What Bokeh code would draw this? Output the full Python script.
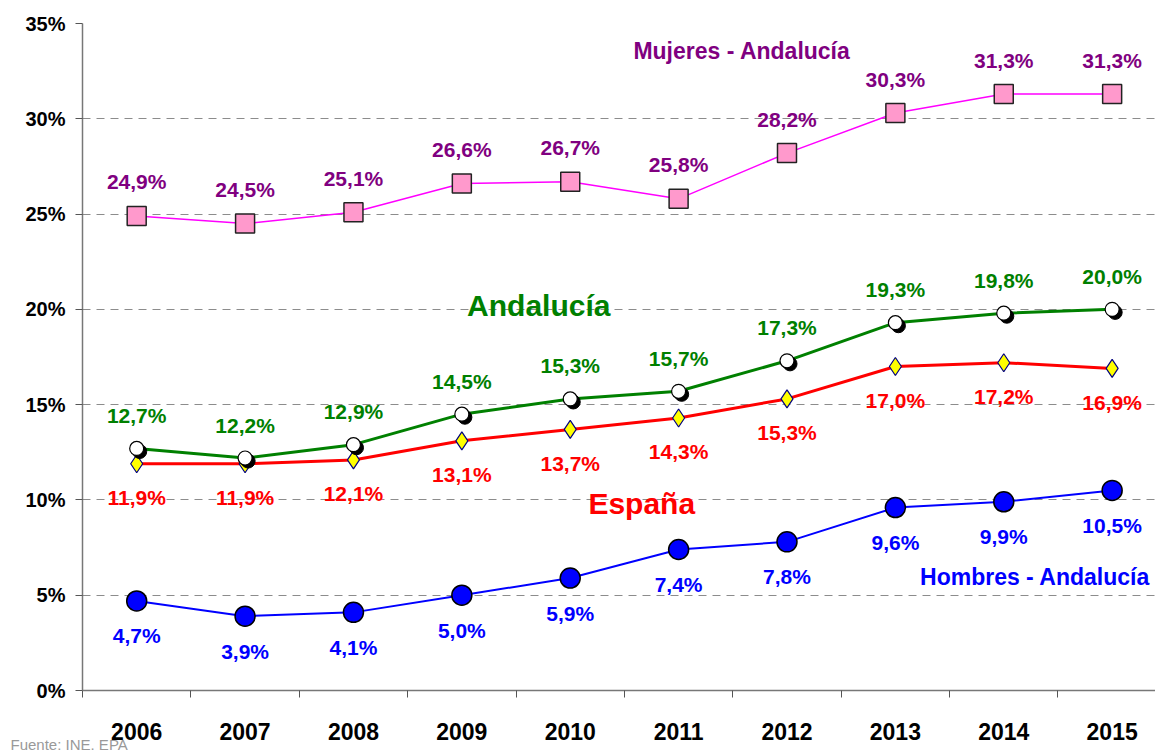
from bokeh.plotting import figure
from bokeh.models import Range1d, FixedTicker, Label, ColumnDataSource, Title
from bokeh.core.properties import value
from bokeh.embed import file_html
from bokeh.resources import INLINE

years = ["2006", "2007", "2008", "2009", "2010", "2011", "2012", "2013", "2014", "2015"]
mujeres_and = [24.9, 24.5, 25.1, 26.6, 26.7, 25.8, 28.2, 30.3, 31.3, 31.3]
andalucia = [12.7, 12.2, 12.9, 14.5, 15.3, 15.7, 17.3, 19.3, 19.8, 20.0]
espana = [11.9, 11.9, 12.1, 13.1, 13.7, 14.3, 15.3, 17.0, 17.2, 16.9]
hombres_and = [4.7, 3.9, 4.1, 5.0, 5.9, 7.4, 7.8, 9.6, 9.9, 10.5]
y_ticks = [0, 5, 10, 15, 20, 25, 30, 35]

FONT = "Liberation Sans"
idx = list(range(len(years)))


def fmt(v):
    return ("%.1f%%" % v).replace(".", ",")


p = figure(width=1155, height=751, output_backend="svg", toolbar_location=None,
           x_range=Range1d(-0.5, 9.4), y_range=Range1d(0, 35),
           min_border_left=82, min_border_right=0, min_border_top=23, min_border_bottom=61)
p.outline_line_color = None
p.background_fill_color = "white"
p.border_fill_color = "white"

# axes
p.xaxis.ticker = FixedTicker(ticks=idx, minor_ticks=[i - 0.5 for i in idx])
p.xaxis.major_label_overrides = {i: y for i, y in zip(idx, years)}
p.xaxis.major_tick_out = 0
p.xaxis.major_tick_in = 0
p.xaxis.minor_tick_out = 7
p.xaxis.minor_tick_in = 0
p.xaxis.minor_tick_line_color = "#555555"
p.xaxis.axis_line_color = "#777777"
p.xaxis.axis_line_width = 1.5
p.xaxis.major_label_text_font = FONT
p.xaxis.major_label_text_font_style = "bold"
p.xaxis.major_label_text_font_size = "23px"
p.xaxis.major_label_text_color = "black"
p.xaxis.major_label_standoff = 25

p.yaxis.ticker = FixedTicker(ticks=y_ticks)
p.yaxis.major_label_overrides = {t: "%d%%" % t for t in y_ticks}
p.yaxis.major_tick_out = 7
p.yaxis.major_tick_in = 0
p.yaxis.minor_tick_out = 0
p.yaxis.minor_tick_in = 0
p.yaxis.major_tick_line_color = "#555555"
p.yaxis.axis_line_color = "#777777"
p.yaxis.axis_line_width = 1.5
p.yaxis.major_label_text_font = FONT
p.yaxis.major_label_text_font_style = "bold"
p.yaxis.major_label_text_font_size = "20px"
p.yaxis.major_label_text_color = "black"
p.yaxis.major_label_standoff = 10

p.xgrid.grid_line_color = None
p.ygrid.ticker = FixedTicker(ticks=y_ticks[1:])
p.ygrid.grid_line_color = "#8c8c8c"
p.ygrid.grid_line_dash = "8 6"
p.ygrid.grid_line_width = 1

src = ColumnDataSource(dict(
    x=idx,
    muj=mujeres_and, and_=andalucia, esp=espana, hom=hombres_and,
    muj_l=[fmt(v) for v in mujeres_and],
    and_l=[fmt(v) for v in andalucia],
    esp_l=[fmt(v) for v in espana],
    hom_l=[fmt(v) for v in hombres_and],
    and_sx=[i + 0.028 for i in idx],
    and_sy=[v - 0.16 for v in andalucia],
))

# lines
p.line("x", "muj", source=src, line_color="#FF00FF", line_width=1.5)
p.line("x", "esp", source=src, line_color="#FF0000", line_width=3)
p.line("x", "and_", source=src, line_color="#008000", line_width=3)
p.line("x", "hom", source=src, line_color="#0000FF", line_width=2)

# markers
p.scatter("x", "muj", source=src, marker="square", size=19, fill_color="#FF99CC",
          line_color="#222222", line_width=1.5)
p.scatter("x", "esp", source=src, marker="diamond", size=18, fill_color="#FFFF00",
          line_color="#000080", line_width=1.2)
p.scatter("and_sx", "and_sy", source=src, marker="circle", size=14, fill_color="black",
          line_color="black")
p.scatter("x", "and_", source=src, marker="circle", size=14, fill_color="white",
          line_color="black", line_width=1.2)
p.scatter("x", "hom", source=src, marker="circle", size=20, fill_color="#0000FF",
          line_color="black", line_width=1.5)

# value labels
common = dict(source=src, text_font=value(FONT), text_font_style="bold",
              text_font_size="21px", text_align="center", text_baseline="middle")
p.text("x", "muj", text="muj_l", text_color="#800080", y_offset=-34, **common)
p.text("x", "and_", text="and_l", text_color="#008000", y_offset=-33, **common)
p.text("x", "esp", text="esp_l", text_color="#FF0000", y_offset=34, **common)
p.text("x", "hom", text="hom_l", text_color="#0000FF", y_offset=35, **common)


# series names
def name(x, y, txt, color, size, align="center"):
    p.add_layout(Label(x=x, y=y, text=txt, text_color=color, text_font=FONT,
                       text_font_style="bold", text_font_size=size,
                       text_align=align, text_baseline="middle"))


name(5.585, 33.55, "Mujeres - Andalucía", "#800080", "23px")
name(3.71, 20.2, "Andalucía", "#008000", "30px")
name(4.66, 9.8, "España", "#FF0000", "30px")
name(9.35, 5.95, "Hombres - Andalucía", "#0000FF", "23px", align="right")

p.add_layout(Title(text="Fuente: INE. EPA", text_color="#999999", text_font=FONT,
                   text_font_size="15px", text_font_style="normal", align="left",
                   offset=-72, standoff=-20), "below")

open("out.html", "w").write(file_html(p, INLINE))
